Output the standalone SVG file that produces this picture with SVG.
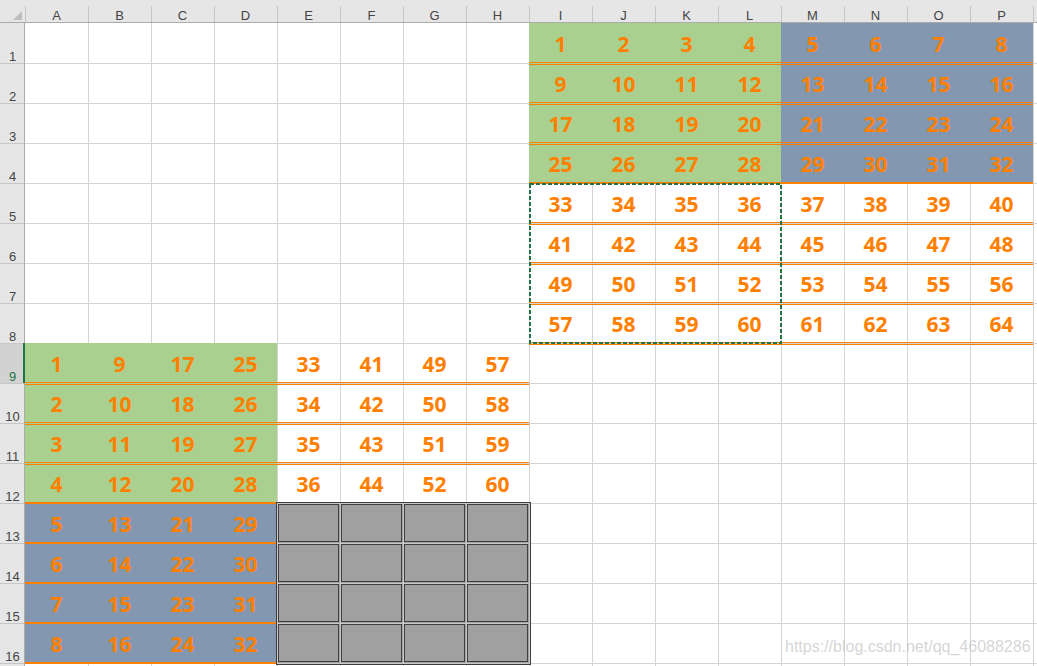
<svg xmlns="http://www.w3.org/2000/svg" width="1037" height="666" viewBox="0 0 1037 666">
<style>
.g{stroke:#D4D4D4;stroke-width:1;fill:none}
.hs{stroke:#C6C6C6;stroke-width:1}
.hd{font-family:"Liberation Sans",Arial,sans-serif;font-size:13px;fill:#444;text-anchor:middle}
.n{font-family:"Noto Sans","DejaVu Sans",sans-serif;font-size:21px;font-weight:bold;fill:#FF8000;text-anchor:middle}
.o1{stroke:#FF8000;stroke-width:1}
.o2{stroke:#FF8000;stroke-width:2}
.gc{fill:none;stroke:#3F3F3F;stroke-width:1}
</style>
<rect x="0" y="0" width="1037" height="666" fill="#FFFFFF"/>
<g id="gridlines">
<path class="g" d="M88.5 23V666M151.5 23V666M214.5 23V666M277.5 23V666M340.5 23V666M403.5 23V666M466.5 23V666M529.5 23V666M592.5 23V666M655.5 23V666M718.5 23V666M781.5 23V666M844.5 23V666M907.5 23V666M970.5 23V666M1033.5 23V666"/>
<path class="g" d="M25 63.5H1037M25 103.5H1037M25 143.5H1037M25 183.5H1037M25 223.5H1037M25 263.5H1037M25 303.5H1037M25 343.5H1037M25 383.5H1037M25 423.5H1037M25 463.5H1037M25 503.5H1037M25 543.5H1037M25 583.5H1037M25 623.5H1037M25 663.5H1037"/>
</g>
<g id="fills">
<rect x="529" y="23" width="252" height="160" fill="#A9D08E"/>
<rect x="781" y="23" width="252" height="160" fill="#8497B0"/>
<rect x="25" y="343" width="252" height="160" fill="#A9D08E"/>
<rect x="25" y="503" width="252" height="160" fill="#8497B0"/>
<rect x="277" y="503" width="252" height="160" fill="#A0A0A0"/>
</g>
<g id="orange-borders">
<path class="o1" d="M529 62.5H1033M529 64.5H1033M529 102.5H1033M529 104.5H1033M529 142.5H1033M529 144.5H1033"/>
<path class="o2" d="M529 183H1033"/>
<path class="o1" d="M529 222.5H1033M529 224.5H1033M529 262.5H1033M529 264.5H1033M529 302.5H1033M529 304.5H1033M529 342.5H1033M529 344.5H1033"/>
<path class="o1" d="M25 382.5H529M25 384.5H529M25 422.5H529M25 424.5H529M25 462.5H529M25 464.5H529"/>
<path class="o2" d="M25 503H277M25 543H277M25 583H277M25 623H277M25 663H277"/>
</g>
<g id="gray-block">
<rect x="276.5" y="502.5" width="254" height="162" fill="none" stroke="#3F3F3F"/>
<path d="M277 503.5H530M277 663.5H530M277.5 503V664M529.5 503V664M340.5 503V664M403.5 503V664M466.5 503V664M277 543.5H530M277 583.5H530M277 623.5H530" stroke="#C8C8C8" fill="none"/>
<rect class="gc" x="278.5" y="504.5" width="60" height="37"/>
<rect class="gc" x="341.5" y="504.5" width="60" height="37"/>
<rect class="gc" x="404.5" y="504.5" width="60" height="37"/>
<rect class="gc" x="467.5" y="504.5" width="60" height="37"/>
<rect class="gc" x="278.5" y="544.5" width="60" height="37"/>
<rect class="gc" x="341.5" y="544.5" width="60" height="37"/>
<rect class="gc" x="404.5" y="544.5" width="60" height="37"/>
<rect class="gc" x="467.5" y="544.5" width="60" height="37"/>
<rect class="gc" x="278.5" y="584.5" width="60" height="37"/>
<rect class="gc" x="341.5" y="584.5" width="60" height="37"/>
<rect class="gc" x="404.5" y="584.5" width="60" height="37"/>
<rect class="gc" x="467.5" y="584.5" width="60" height="37"/>
<rect class="gc" x="278.5" y="624.5" width="60" height="37"/>
<rect class="gc" x="341.5" y="624.5" width="60" height="37"/>
<rect class="gc" x="404.5" y="624.5" width="60" height="37"/>
<rect class="gc" x="467.5" y="624.5" width="60" height="37"/>
</g>
<g id="selection">
<rect x="530" y="184" width="251" height="159" fill="none" stroke="#217346" stroke-width="2" stroke-dasharray="4 2"/>
</g>
<g id="numbers-top-right">
<text class="n" x="560.5" y="52">1</text><text class="n" x="623.5" y="52">2</text><text class="n" x="686.5" y="52">3</text><text class="n" x="749.5" y="52">4</text><text class="n" x="812.5" y="52">5</text><text class="n" x="875.5" y="52">6</text><text class="n" x="938.5" y="52">7</text><text class="n" x="1001.5" y="52">8</text>
<text class="n" x="560.5" y="92">9</text><text class="n" x="623.5" y="92">10</text><text class="n" x="686.5" y="92">11</text><text class="n" x="749.5" y="92">12</text><text class="n" x="812.5" y="92">13</text><text class="n" x="875.5" y="92">14</text><text class="n" x="938.5" y="92">15</text><text class="n" x="1001.5" y="92">16</text>
<text class="n" x="560.5" y="132">17</text><text class="n" x="623.5" y="132">18</text><text class="n" x="686.5" y="132">19</text><text class="n" x="749.5" y="132">20</text><text class="n" x="812.5" y="132">21</text><text class="n" x="875.5" y="132">22</text><text class="n" x="938.5" y="132">23</text><text class="n" x="1001.5" y="132">24</text>
<text class="n" x="560.5" y="172">25</text><text class="n" x="623.5" y="172">26</text><text class="n" x="686.5" y="172">27</text><text class="n" x="749.5" y="172">28</text><text class="n" x="812.5" y="172">29</text><text class="n" x="875.5" y="172">30</text><text class="n" x="938.5" y="172">31</text><text class="n" x="1001.5" y="172">32</text>
<text class="n" x="560.5" y="212">33</text><text class="n" x="623.5" y="212">34</text><text class="n" x="686.5" y="212">35</text><text class="n" x="749.5" y="212">36</text><text class="n" x="812.5" y="212">37</text><text class="n" x="875.5" y="212">38</text><text class="n" x="938.5" y="212">39</text><text class="n" x="1001.5" y="212">40</text>
<text class="n" x="560.5" y="252">41</text><text class="n" x="623.5" y="252">42</text><text class="n" x="686.5" y="252">43</text><text class="n" x="749.5" y="252">44</text><text class="n" x="812.5" y="252">45</text><text class="n" x="875.5" y="252">46</text><text class="n" x="938.5" y="252">47</text><text class="n" x="1001.5" y="252">48</text>
<text class="n" x="560.5" y="292">49</text><text class="n" x="623.5" y="292">50</text><text class="n" x="686.5" y="292">51</text><text class="n" x="749.5" y="292">52</text><text class="n" x="812.5" y="292">53</text><text class="n" x="875.5" y="292">54</text><text class="n" x="938.5" y="292">55</text><text class="n" x="1001.5" y="292">56</text>
<text class="n" x="560.5" y="332">57</text><text class="n" x="623.5" y="332">58</text><text class="n" x="686.5" y="332">59</text><text class="n" x="749.5" y="332">60</text><text class="n" x="812.5" y="332">61</text><text class="n" x="875.5" y="332">62</text><text class="n" x="938.5" y="332">63</text><text class="n" x="1001.5" y="332">64</text>
</g>
<g id="numbers-bottom-left">
<text class="n" x="56.5" y="372">1</text><text class="n" x="119.5" y="372">9</text><text class="n" x="182.5" y="372">17</text><text class="n" x="245.5" y="372">25</text><text class="n" x="308.5" y="372">33</text><text class="n" x="371.5" y="372">41</text><text class="n" x="434.5" y="372">49</text><text class="n" x="497.5" y="372">57</text>
<text class="n" x="56.5" y="412">2</text><text class="n" x="119.5" y="412">10</text><text class="n" x="182.5" y="412">18</text><text class="n" x="245.5" y="412">26</text><text class="n" x="308.5" y="412">34</text><text class="n" x="371.5" y="412">42</text><text class="n" x="434.5" y="412">50</text><text class="n" x="497.5" y="412">58</text>
<text class="n" x="56.5" y="452">3</text><text class="n" x="119.5" y="452">11</text><text class="n" x="182.5" y="452">19</text><text class="n" x="245.5" y="452">27</text><text class="n" x="308.5" y="452">35</text><text class="n" x="371.5" y="452">43</text><text class="n" x="434.5" y="452">51</text><text class="n" x="497.5" y="452">59</text>
<text class="n" x="56.5" y="492">4</text><text class="n" x="119.5" y="492">12</text><text class="n" x="182.5" y="492">20</text><text class="n" x="245.5" y="492">28</text><text class="n" x="308.5" y="492">36</text><text class="n" x="371.5" y="492">44</text><text class="n" x="434.5" y="492">52</text><text class="n" x="497.5" y="492">60</text>
<text class="n" x="56.5" y="532">5</text><text class="n" x="119.5" y="532">13</text><text class="n" x="182.5" y="532">21</text><text class="n" x="245.5" y="532">29</text>
<text class="n" x="56.5" y="572">6</text><text class="n" x="119.5" y="572">14</text><text class="n" x="182.5" y="572">22</text><text class="n" x="245.5" y="572">30</text>
<text class="n" x="56.5" y="612">7</text><text class="n" x="119.5" y="612">15</text><text class="n" x="182.5" y="612">23</text><text class="n" x="245.5" y="612">31</text>
<text class="n" x="56.5" y="652">8</text><text class="n" x="119.5" y="652">16</text><text class="n" x="182.5" y="652">24</text><text class="n" x="245.5" y="652">32</text>
</g>
<g id="column-header">
<rect x="0" y="0" width="1037" height="23" fill="#E6E6E6"/>
<path class="hs" d="M25.5 6V22M88.5 6V22M151.5 6V22M214.5 6V22M277.5 6V22M340.5 6V22M403.5 6V22M466.5 6V22M529.5 6V22M592.5 6V22M655.5 6V22M718.5 6V22M781.5 6V22M844.5 6V22M907.5 6V22M970.5 6V22M1033.5 6V22"/>
<path d="M0 22.5H1037" stroke="#ABABAB"/>
<polygon points="13,20 22,20 22,11" fill="#BDBDBD"/>
<text class="hd" x="56.5" y="20">A</text><text class="hd" x="119.5" y="20">B</text><text class="hd" x="182.5" y="20">C</text><text class="hd" x="245.5" y="20">D</text><text class="hd" x="308.5" y="20">E</text><text class="hd" x="371.5" y="20">F</text><text class="hd" x="434.5" y="20">G</text><text class="hd" x="497.5" y="20">H</text>
<text class="hd" x="560.5" y="20">I</text><text class="hd" x="623.5" y="20">J</text><text class="hd" x="686.5" y="20">K</text><text class="hd" x="749.5" y="20">L</text><text class="hd" x="812.5" y="20">M</text><text class="hd" x="875.5" y="20">N</text><text class="hd" x="938.5" y="20">O</text><text class="hd" x="1001.5" y="20">P</text>
</g>
<g id="row-header">
<rect x="0" y="23" width="25" height="643" fill="#E6E6E6"/>
<rect x="0" y="343" width="24" height="40" fill="#D2D2D2"/>
<path class="hs" d="M0 63.5H24M0 103.5H24M0 143.5H24M0 183.5H24M0 223.5H24M0 263.5H24M0 303.5H24M0 343.5H24M0 383.5H24M0 423.5H24M0 463.5H24M0 503.5H24M0 543.5H24M0 583.5H24M0 623.5H24M0 663.5H24"/>
<path d="M24.5 23V666" stroke="#ABABAB"/>
<rect x="23" y="343" width="2" height="40" fill="#217346"/>
<text class="hd" x="12.5" y="61">1</text><text class="hd" x="12.5" y="101">2</text><text class="hd" x="12.5" y="141">3</text><text class="hd" x="12.5" y="181">4</text>
<text class="hd" x="12.5" y="221">5</text><text class="hd" x="12.5" y="261">6</text><text class="hd" x="12.5" y="301">7</text><text class="hd" x="12.5" y="341">8</text>
<text class="hd" x="12.5" y="381" fill="#217346" style="fill:#217346">9</text><text class="hd" x="12.5" y="421">10</text><text class="hd" x="12.5" y="461">11</text><text class="hd" x="12.5" y="501">12</text>
<text class="hd" x="12.5" y="541">13</text><text class="hd" x="12.5" y="581">14</text><text class="hd" x="12.5" y="621">15</text><text class="hd" x="12.5" y="661">16</text>
</g>
<text x="785" y="652" font-family="Liberation Sans, Arial, sans-serif" font-size="16" fill="#C8C8C8" fill-opacity="0.75">https://blog.csdn.net/qq_46088286</text>
</svg>
